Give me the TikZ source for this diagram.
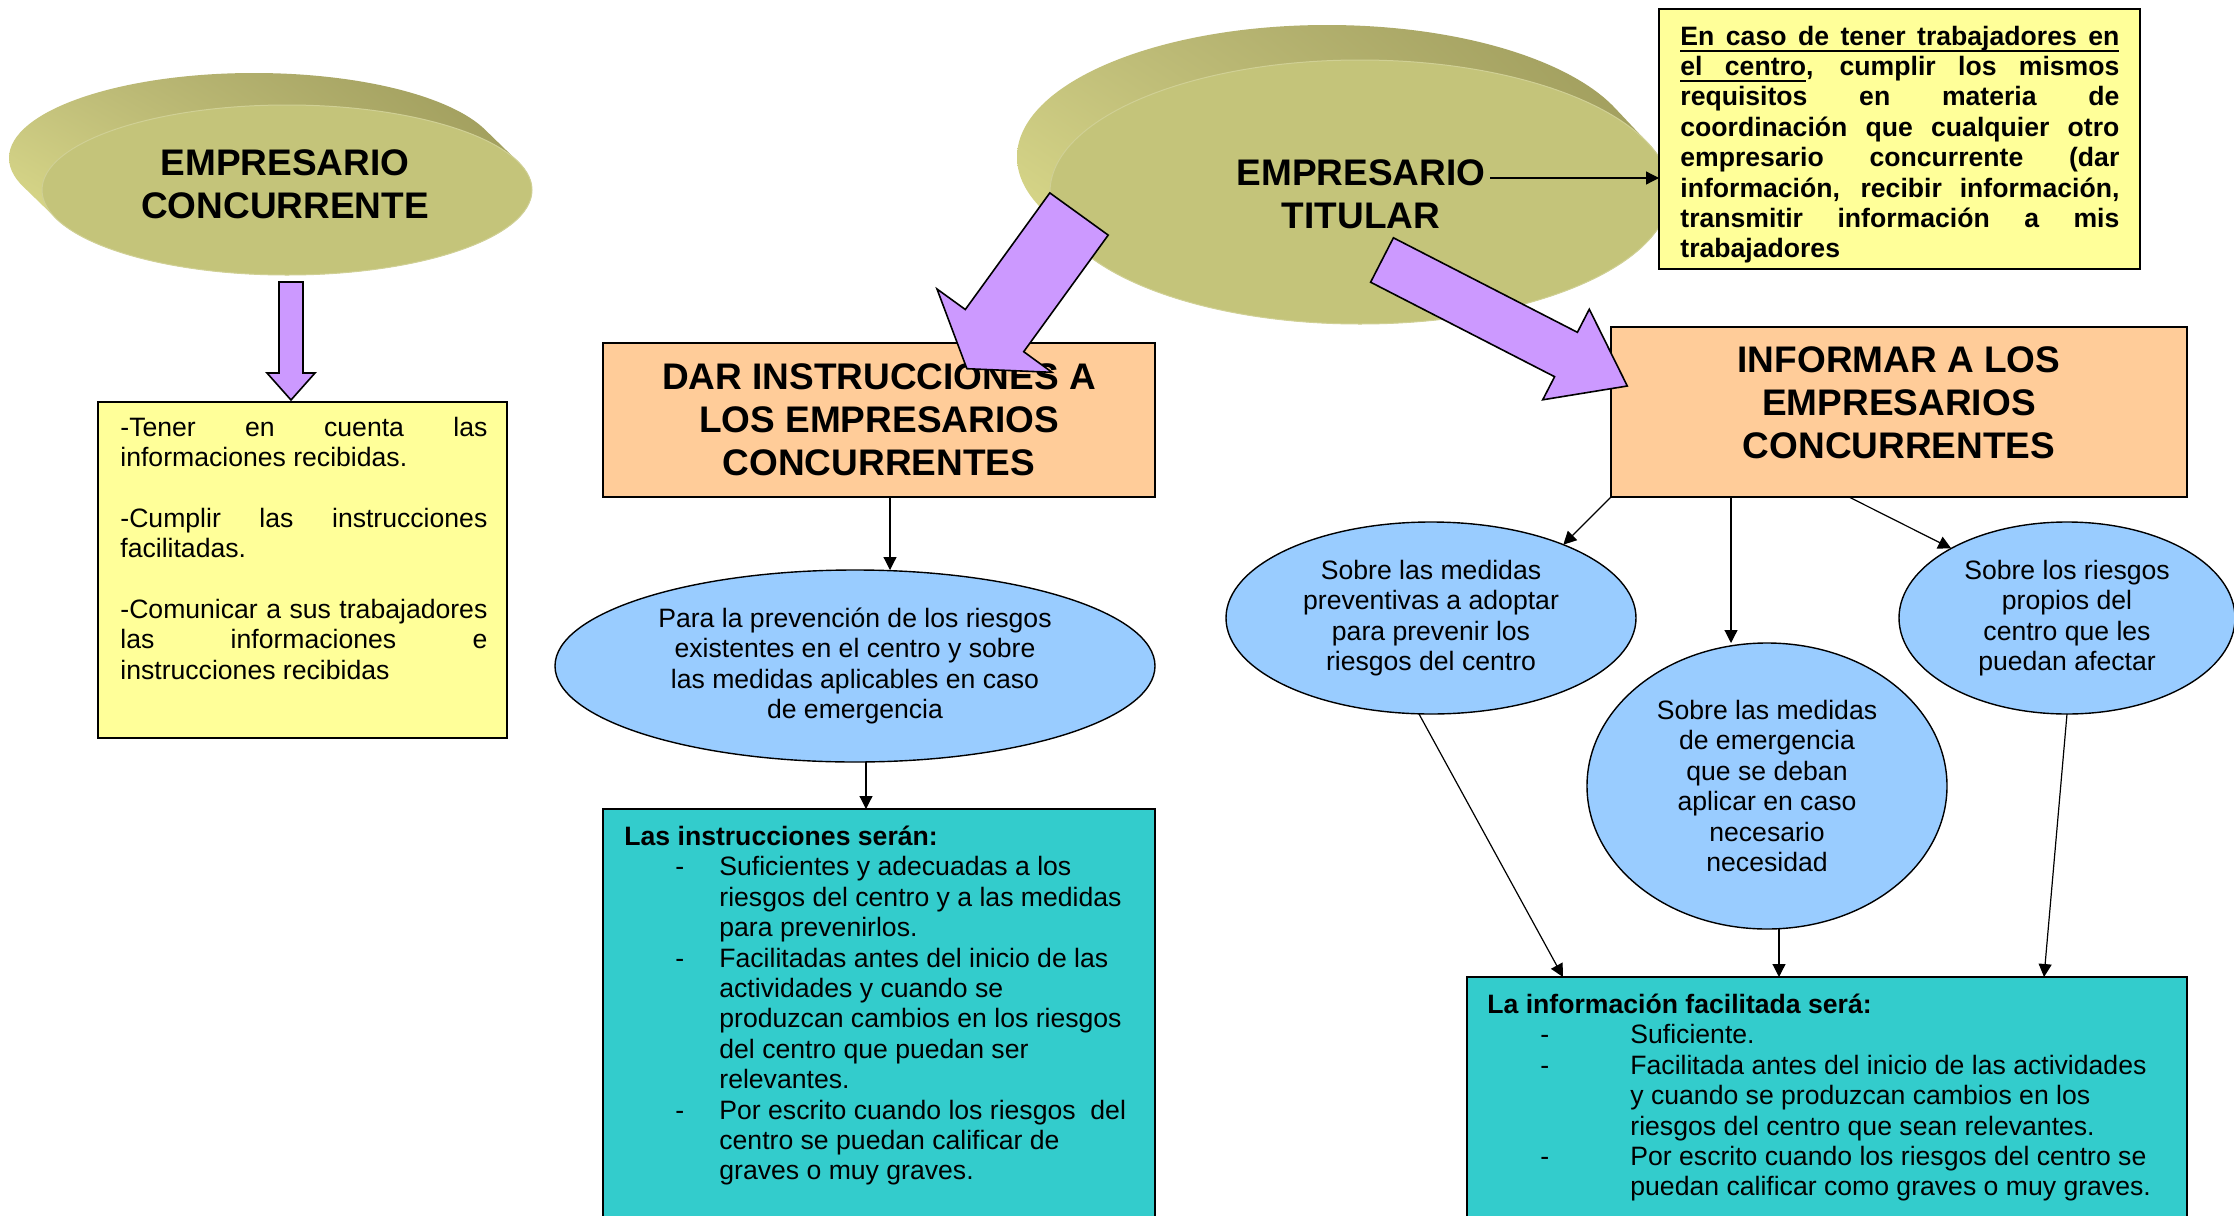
\documentclass[tikz,border=0pt]{standalone}
\usepackage{fontspec}
\setmainfont{Liberation Sans}
\usetikzlibrary{arrows.meta,shapes.geometric,calc,shadings}
\definecolor{olivetop}{HTML}{C4C47A}
\definecolor{olivelight}{HTML}{E4E48F}
\definecolor{olivemid}{HTML}{C2C07C}
\definecolor{olivedark}{HTML}{9C995A}
\definecolor{oliveright}{HTML}{A9A764}
\definecolor{paleyellow}{HTML}{FFFF99}
\definecolor{peach}{HTML}{FFCC99}
\definecolor{skyb}{HTML}{99CCFF}
\definecolor{tealbox}{HTML}{33CCCC}
\definecolor{lilac}{HTML}{CC99FF}
\newcommand{\dashitem}[3]{\hspace*{#1}\makebox[#2][l]{-}#3}
\newcommand{\contline}[2]{\hspace*{#1}#2}
\newsavebox{\ulbox}
\newcommand{\ulword}[1]{\sbox{\ulbox}{#1}\rlap{\rule[-3.3pt]{\wd\ulbox}{1pt}}\usebox{\ulbox}}
\newcommand{\ulsp}{\leaders\hrule height -2.3pt depth 3.3pt\hskip\fontdimen2\font plus \fontdimen3\font minus \fontdimen4\font\relax}
\begin{document}
\begin{tikzpicture}[x=0.5pt,y=-0.5pt,
  body/.style={font=\fontsize{13.3}{15.2}\selectfont\sloppy},
  bodyb/.style={font=\fontsize{13.3}{15.2}\selectfont\bfseries\sloppy},
  title/.style={font=\fontsize{18.5}{21.5}\selectfont\bfseries, align=center, inner sep=0pt},
  box/.style={draw=black, line width=0.8pt, rectangle, inner sep=0pt, outer sep=0pt},
  bell/.style={ellipse, draw=black, line width=0.7pt, fill=skyb, inner sep=0pt, outer sep=0pt, align=center, body},
  con/.style={-{Triangle[length=6.5pt,width=6.5pt]}, line width=0.6pt},
  blockarrow/.style={fill=lilac, draw=black, line width=0.8pt, line join=miter},
  sideshade/.style={upper left=olivemid, lower left=olivelight, upper right=olivedark, lower right=oliveright},
  topface/.style={fill=olivetop, draw=olivetop!80!white, line width=0.5pt}
]
\useasboundingbox (0,0) rectangle (2234,1216);
\clip (0,0) rectangle (2234,1216);
\fill[white] (0,0) rectangle (2234,1216);

% --- EMPRESARIO CONCURRENTE (3D disc)
\shade[sideshade] \foreach \k in {0,...,24} {(287-33*\k/24,190-32*\k/24) ellipse [x radius=245,y radius=85]};
\path[topface] (287,190) ellipse [x radius=245,y radius=85];
\node[title] (conc) at (285,184) {EMPRESARIO\\CONCURRENTE};

% --- EMPRESARIO TITULAR (3D disc)
\shade[sideshade] \foreach \k in {0,...,24} {(1360-33*\k/24,192-35*\k/24) ellipse [x radius=310,y radius=132]};
\path[topface] (1360,192) ellipse [x radius=310,y radius=132];
\node[title] (titular) at (1361,194) {EMPRESARIO\\TITULAR};

% --- yellow box top right
\node[box, fill=paleyellow, minimum width=240.5pt, minimum height=130pt] (yelR) at (1899.5,139) {};
\node[bodyb, text width=219.5pt, align=justify, anchor=north west, inner sep=0pt] (yelRtext) at (1680,25.5)
  {\ulword{En}\ulsp\ulword{caso}\ulsp\ulword{de}\ulsp\ulword{tener}\ulsp\ulword{trabajadores}\ulsp\ulword{en}\linebreak
   \ulword{el}\ulsp\ulword{centro}, cumplir los mismos\linebreak requisitos en materia de\linebreak coordinación que cualquier otro\linebreak empresario concurrente (dar\linebreak información, recibir información,\linebreak transmitir información a mis\linebreak trabajadores};
\coordinate (tstart) at (1490,178);
\draw[con] (tstart) -- (tstart -| yelR.west);

% --- left yellow box
\node[box, fill=paleyellow, minimum width=204.5pt, minimum height=168pt] (yelL) at (302.5,570) {};
\node[body, text width=183.5pt, align=justify, anchor=north west, inner sep=0pt] (yelLtext) at (120,416.5)
  {-Tener en cuenta las\linebreak informaciones recibidas.\par\vspace{\baselineskip}-Cumplir las instrucciones\linebreak facilitadas.\par\vspace{\baselineskip}-Comunicar a sus trabajadores\linebreak las informaciones e\linebreak instrucciones recibidas};

% --- orange boxes
\node[box, fill=peach, minimum width=276pt, minimum height=77pt] (dar) at (879,420) {};
\node[title] (dartext) at (879,420) {DAR INSTRUCCIONES A\\LOS EMPRESARIOS\\CONCURRENTES};
\node[box, fill=peach, minimum width=288pt, minimum height=85pt] (inf) at (1899,412) {};
\node[title] (inftext) at (1899,403) {INFORMAR A LOS\\EMPRESARIOS\\CONCURRENTES};

% --- blue ellipses
\node[bell, minimum width=300pt, minimum height=96pt] (para) at (855,666) {Para la prevención de los riesgos\\existentes en el centro y sobre\\las medidas aplicables en caso\\de emergencia};
\node[bell, minimum width=205pt, minimum height=96pt] (eA) at (1431,618) {Sobre las medidas\\preventivas a adoptar\\para prevenir los\\riesgos del centro};
\node[bell, minimum width=180pt, minimum height=143pt] (eB) at (1767,786) {Sobre las medidas\\de emergencia\\que se deban\\aplicar en caso\\necesario\\necesidad};
\node[bell, minimum width=168pt, minimum height=96pt] (eC) at (2067,618) {Sobre los riesgos\\propios del\\centro que les\\puedan afectar};

% --- teal boxes
\node[box, fill=tealbox, minimum width=276pt, minimum height=215.5pt] (teal1) at (879,1024.5) {};
\node[body, align=left, anchor=north west, inner sep=0pt] (teal1text) at (624,825.5)
  {\textbf{Las instrucciones serán:}\\
   \dashitem{25.5pt}{22pt}{Suficientes y adecuadas a los}\\
   \contline{47.5pt}{riesgos del centro y a las medidas}\\
   \contline{47.5pt}{para prevenirlos.}\\
   \dashitem{25.5pt}{22pt}{Facilitadas antes del inicio de las}\\
   \contline{47.5pt}{actividades y cuando se}\\
   \contline{47.5pt}{produzcan cambios en los riesgos}\\
   \contline{47.5pt}{del centro que puedan ser}\\
   \contline{47.5pt}{relevantes.}\\
   \dashitem{25.5pt}{22pt}{Por escrito cuando los riesgos\ \ del}\\
   \contline{47.5pt}{centro se puedan calificar de}\\
   \contline{47.5pt}{graves o muy graves.}};
\node[box, fill=tealbox, minimum width=360pt, minimum height=131.5pt] (teal2) at (1827,1108.5) {};
\node[body, align=left, anchor=north west, inner sep=0pt] (teal2text) at (1487,993.5)
  {\textbf{La información facilitada será:}\\
   \dashitem{26.5pt}{45pt}{Suficiente.}\\
   \dashitem{26.5pt}{45pt}{Facilitada antes del inicio de las actividades}\\
   \contline{71.5pt}{y cuando se produzcan cambios en los}\\
   \contline{71.5pt}{riesgos del centro que sean relevantes.}\\
   \dashitem{26.5pt}{45pt}{Por escrito cuando los riesgos del centro se}\\
   \contline{71.5pt}{puedan calificar como graves o muy graves.}};

% --- connectors
\draw[con] ([xshift=5.5pt]dar.south) -- ([xshift=5.5pt]dar.south |- para.north);
\draw[con] ([xshift=5.5pt]para.south) -- ([xshift=5.5pt]para.south |- teal1.north);
\draw[con] (inf.south west) -- (eA.29);
\draw[con] ([xshift=-84pt]inf.south) -- ([xshift=-84pt]inf.south |- eB.north);
\draw[con] ([xshift=-25pt]inf.south) -- (eC.149);
\draw[con] ([xshift=-6pt]eA.south) -- ([xshift=-132pt]teal2.north);
\draw[con] ([xshift=6pt]eB.south) -- ([xshift=6pt]eB.south |- teal2.north);
\draw[con] (eC.south) -- ([xshift=108.5pt]teal2.north);

% --- block arrows
\draw[blockarrow] (279,282) -- (303,282) -- (303,373) -- (315,373) -- (291,400) -- (267,373) -- (279,373) -- cycle;
\draw[blockarrow] (1049.8,192.9) -- (1108.2,235.1) -- (1023.7,351.7) -- (1052,372.3) -- (966.9,368.7) -- (937,289) -- (965.3,309.5) -- cycle;
\draw[blockarrow] (1393.4,237.8) -- (1577.4,332.3) -- (1589.3,309.2) -- (1627.3,386) -- (1542.7,399.8) -- (1554.6,376.7) -- (1370.6,282.2) -- cycle;
\end{tikzpicture}
\end{document}
